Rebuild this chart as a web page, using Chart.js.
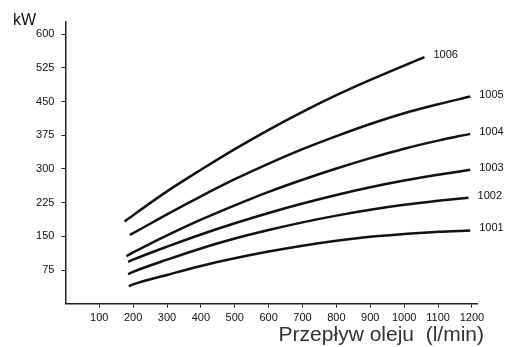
<!DOCTYPE html>
<html>
<head>
<meta charset="utf-8">
<script src="https://cdn.jsdelivr.net/npm/chart.js@4/dist/chart.umd.min.js"></script>
<style>
  html, body { margin: 0; padding: 0; background: #fff; }
  #wrap { width: 510px; height: 347px; }
</style>
</head>
<body>
<div id="wrap"><canvas id="chart" width="510" height="347"></canvas></div>
<script>
// oil flow (l/min) and power (kW) per pump model
const seriesNames = ['1006', '1005', '1004', '1003', '1002', '1001'];

const flow1006 = [175, 200, 300, 400, 500, 600, 700, 800, 900, 1000, 1060];
const kw1006 = [183, 197, 250, 298, 344, 387, 427, 464, 498, 530, 549];

const flow1005 = [190, 200, 300, 400, 500, 600, 700, 800, 900, 1000, 1100, 1195];
const kw1005 = [153, 157, 199, 239, 277, 312, 344, 373, 400, 424, 444, 461];

const flow1004 = [180, 200, 300, 400, 500, 600, 700, 800, 900, 1000, 1100, 1195];
const kw1004 = [106, 114, 152, 187, 219, 249, 276, 301, 324, 345, 363, 378];

const flow1003 = [185, 200, 300, 400, 500, 600, 700, 800, 900, 1000, 1100, 1195];
const kw1003 = [93, 98, 127, 154, 179, 202, 223, 242, 259, 274, 287, 298];

const flow1002 = [185, 200, 300, 400, 500, 600, 700, 800, 900, 1000, 1100, 1190];
const kw1002 = [66, 71, 98, 123, 145, 164, 181, 196, 209, 220, 229, 236];

const flow1001 = [187, 200, 300, 400, 500, 600, 700, 800, 900, 1000, 1100, 1195];
const kw1001 = [39, 43, 64, 84, 101, 116, 129, 140, 149, 155, 160, 163];

const xTicks = [100, 200, 300, 400, 500, 600, 700, 800, 900, 1000, 1100, 1200];
const yTicks = [75, 150, 225, 300, 375, 450, 525, 600];

const xTitle = 'Przepływ oleju  (l/min)';
const yTitle = 'kW';

const flows = [flow1006, flow1005, flow1004, flow1003, flow1002, flow1001];
const powers = [kw1006, kw1005, kw1004, kw1003, kw1002, kw1001];

function toPoints(xs, ys) {
  return xs.map((x, i) => ({ x, y: ys[i] }));
}

const datasets = seriesNames.map((name, i) => ({
  label: name,
  data: toPoints(flows[i], powers[i]),
  borderColor: '#111',
  borderWidth: 2.5,
  pointRadius: 0,
  fill: false,
  cubicInterpolationMode: 'monotone'
}));

const labelsPlugin = {
  id: 'labels',
  afterDraw(chart) {
    const ctx = chart.ctx;
    ctx.save();
    ctx.fillStyle = '#111';
    ctx.textBaseline = 'middle';
    ctx.textAlign = 'left';
    ctx.font = '11px "Liberation Sans", Arial, sans-serif';
    chart.data.datasets.forEach((ds, i) => {
      const pts = chart.getDatasetMeta(i).data;
      const last = pts[pts.length - 1];
      ctx.fillText(ds.label, last.x + 9, last.y - 2);
    });

    ctx.font = '16px "Liberation Sans", Arial, sans-serif';
    ctx.fillText(yTitle, 13, 21);

    ctx.fillStyle = '#333';
    ctx.textAlign = 'right';
    ctx.font = '21px "Liberation Sans", Arial, sans-serif';
    ctx.fillText(xTitle, 484, 335);
    ctx.restore();
  }
};

const axisColor = '#222';
const tickFont = { family: '"Liberation Sans", Arial, sans-serif', size: 11 };

new Chart(document.getElementById('chart'), {
  type: 'line',
  data: { datasets },
  options: {
    responsive: false,
    animation: false,
    layout: { padding: { top: 22, right: 33, left: 0, bottom: 0 } },
    plugins: {
      legend: { display: false },
      tooltip: { enabled: false }
    },
    scales: {
      x: {
        type: 'linear',
        min: 0,
        max: 1215,
        afterBuildTicks: axis => { axis.ticks = xTicks.map(v => ({ value: v })); },
        afterFit: axis => { axis.height = 43.3; },
        ticks: { color: '#111', font: tickFont, padding: 4, maxRotation: 0, autoSkip: false, callback: v => String(v) },
        grid: { drawOnChartArea: false, drawTicks: true, tickLength: 4, tickColor: axisColor, lineWidth: 1 },
        border: { display: true, color: axisColor, width: 1.5 }
      },
      y: {
        type: 'linear',
        min: 0,
        max: 627,
        afterBuildTicks: axis => { axis.ticks = yTicks.map(v => ({ value: v })); },
        afterFit: axis => { axis.width = 65.4; },
        ticks: { color: '#111', font: tickFont, padding: 7, callback: v => String(v) },
        grid: { drawOnChartArea: false, drawTicks: true, tickLength: 4, tickColor: axisColor, lineWidth: 1 },
        border: { display: true, color: axisColor, width: 1.5 }
      }
    }
  },
  plugins: [labelsPlugin]
});
</script>
</body>
</html>
